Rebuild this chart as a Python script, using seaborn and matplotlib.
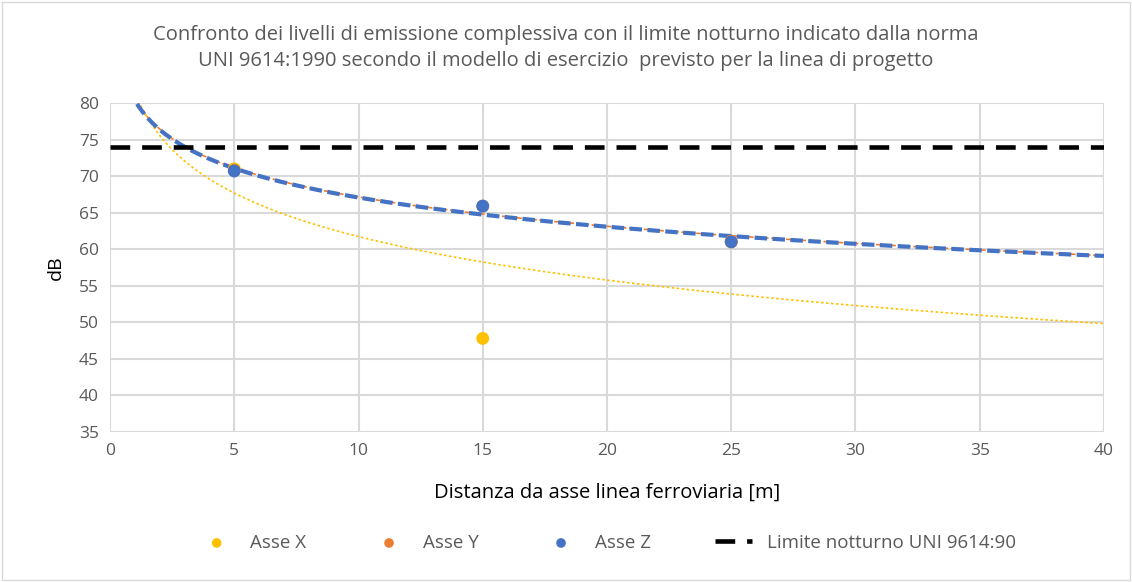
import matplotlib
matplotlib.use("Agg")
import matplotlib.pyplot as plt
import seaborn as sns
import numpy as np
import pandas as pd

sns.set_theme(style="whitegrid")
plt.rcParams['font.family'] = ['Open Sans', 'DejaVu Sans']

# Data
distanze = [5, 15, 25]
asse_x = [71.0, 47.8, 61.0]
asse_y = [70.8, 65.9, 61.1]
asse_z = [70.7, 65.9, 61.0]
limite_notturno = 74
x_ticks = [0, 5, 10, 15, 20, 25, 30, 35, 40]
y_ticks = [35, 40, 45, 50, 55, 60, 65, 70, 75, 80]

grey = '#595959'
c_x, c_y, c_z = '#FFC000', '#ED7D31', '#4472C4'

fig = plt.figure(figsize=(11.32, 5.82), dpi=100)
ax = fig.add_axes([0.0972, 0.2577, 0.878, 0.5653])

# logarithmic trend lines (like Excel), fitted from the points
xs = np.linspace(0.5, 40, 300)
def log_trend(y):
    a, b = np.polyfit(np.log(distanze), y, 1)
    return a * np.log(xs) + b

sns.lineplot(x=xs, y=log_trend(asse_x), ax=ax, color=c_x, lw=1.2,
             linestyle=(0, (1.5, 1.5)), legend=False)
sns.lineplot(x=xs, y=log_trend(asse_y), ax=ax, color=c_y, lw=1.2,
             linestyle=(0, (3, 1.5)), legend=False)
sns.lineplot(x=xs, y=log_trend(asse_z), ax=ax, color=c_z, lw=3,
             linestyle=(0, (3, 1.3)), legend=False)

# night-time limit
sns.lineplot(x=[0, 40], y=[limite_notturno] * 2, ax=ax, color='black', lw=3.3,
             linestyle=(0, (4.3, 2.6)), label='Limite notturno UNI 9614:90')

sns.scatterplot(x=distanze, y=asse_x, ax=ax, color=c_x, s=85, edgecolor='none',
                label='Asse X', zorder=5)
sns.scatterplot(x=distanze, y=asse_y, ax=ax, color=c_y, s=85, edgecolor='none',
                label='Asse Y', zorder=5)
sns.scatterplot(x=distanze, y=asse_z, ax=ax, color=c_z, s=85, edgecolor='none',
                label='Asse Z', zorder=6)

ax.set_xlim(0, 40)
ax.set_ylim(35, 80)
ax.set_xticks(x_ticks)
ax.set_yticks(y_ticks)
ax.grid(True, color='#d9d9d9', lw=1.5)
for s in ax.spines.values():
    s.set_visible(False)
ax.tick_params(axis='both', length=0, labelsize=12.5, labelcolor=grey, pad=8)

ax.set_xlabel('Distanza da asse linea ferroviaria [m]', fontsize=14.5, color='black', labelpad=17)
ax.set_ylabel('dB', fontsize=14, color='black', labelpad=10)

fig.text(0.5, 0.917, 'Confronto dei livelli di emissione complessiva con il limite notturno indicato dalla norma\n'
         'UNI 9614:1990 secondo il modello di esercizio  previsto per la linea di progetto',
         ha='center', va='center', fontsize=14.5, color=grey, linespacing=1.4)

handles, labels = ax.get_legend_handles_labels()
order = [labels.index(l) for l in ['Asse X', 'Asse Y', 'Asse Z', 'Limite notturno UNI 9614:90']]
ax.legend([handles[i] for i in order], [labels[i] for i in order], loc='center',
          bbox_to_anchor=(0.5, -0.337), ncol=4, frameon=False, fontsize=13.5,
          labelcolor=grey, columnspacing=3.4, handlelength=2.0, markerscale=0.75)

fig.patches.append(plt.Rectangle((0.002, 0.003), 0.996, 0.994, transform=fig.transFigure,
                                 fill=False, edgecolor='#d9d9d9', lw=1))

fig.savefig('out.png', dpi=100)
